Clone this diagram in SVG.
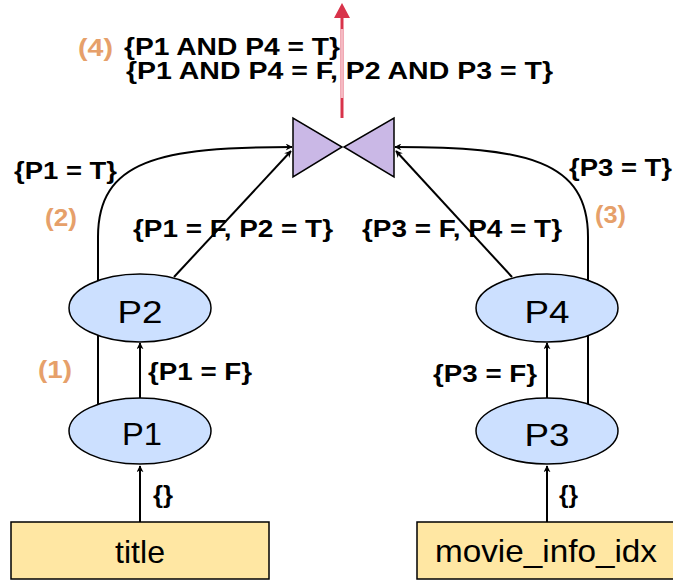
<svg xmlns="http://www.w3.org/2000/svg" width="673" height="581" viewBox="0 0 673 581">
<defs>
<style>
.lbl{font-family:"Liberation Sans",Arial,sans-serif;font-weight:bold;font-size:23px;fill:#000}
.num{font-family:"Liberation Sans",Arial,sans-serif;font-weight:bold;font-size:23px;fill:#E6A06A}
.big{font-family:"Liberation Sans",Arial,sans-serif;font-size:32px;fill:#000}
.ell{fill:#CCE0FF;stroke:#000;stroke-width:1.5}
.tbl{fill:#FFE7A3;stroke:#000;stroke-width:1.5}
.tri{fill:#CAB8E6;stroke:#000;stroke-width:1.5}
.edge{fill:none;stroke:#000;stroke-width:2}
</style>
<marker id="ah" viewBox="0 0 10 10" refX="9" refY="5" markerWidth="7" markerHeight="7" orient="auto" markerUnits="userSpaceOnUse">
<path d="M0,0 L10,5 L0,10 L3,5 z" fill="#000"/>
</marker>
</defs>
<rect width="673" height="581" fill="#fff"/>

<g id="connectors">
<path class="edge" d="M140,522 L140,466" marker-end="url(#ah)"/>
<path class="edge" d="M140,398 L140,343" marker-end="url(#ah)"/>
<path class="edge" d="M547,522 L547,466" marker-end="url(#ah)"/>
<path class="edge" d="M547,398 L547,343" marker-end="url(#ah)"/>
<path class="edge" d="M98,404 L98,237 C98,160 160,147 292,147" marker-end="url(#ah)"/>
<path class="edge" d="M588,405 L588,237 C588,160 526,147 395,147" marker-end="url(#ah)"/>
<path class="edge" d="M174,277 L291,151" marker-end="url(#ah)"/>
<path class="edge" d="M512,277 L396,151" marker-end="url(#ah)"/>
<g id="output-arrow">
<line x1="342" y1="118" x2="342" y2="16" stroke="#D8334A" stroke-width="3"/>
<line x1="342" y1="29" x2="342" y2="98" stroke="#F5B9C2" stroke-width="3"/>
<path d="M342,3 L350,18 L334,18 z" fill="#D8334A"/>
</g>
</g>

<g id="node-title">
<rect class="tbl" x="11" y="522" width="258" height="57"/>
<text class="big" x="140" y="563" text-anchor="middle" textLength="50" lengthAdjust="spacingAndGlyphs">title</text>
</g>
<g id="node-movie_info_idx">
<rect class="tbl" x="417" y="522" width="258" height="57"/>
<text class="big" x="546" y="562" text-anchor="middle" textLength="222" lengthAdjust="spacingAndGlyphs">movie_info_idx</text>
</g>
<g id="node-P1">
<ellipse class="ell" cx="140" cy="431" rx="71" ry="33"/>
<text class="big" x="142" y="445" text-anchor="middle" textLength="40" lengthAdjust="spacingAndGlyphs">P1</text>
</g>
<g id="node-P2">
<ellipse class="ell" cx="140" cy="308" rx="71" ry="34"/>
<text class="big" x="140" y="323" text-anchor="middle" textLength="45" lengthAdjust="spacingAndGlyphs">P2</text>
</g>
<g id="node-P3">
<ellipse class="ell" cx="547" cy="431" rx="71" ry="33"/>
<text class="big" x="547" y="446" text-anchor="middle" textLength="45" lengthAdjust="spacingAndGlyphs">P3</text>
</g>
<g id="node-P4">
<ellipse class="ell" cx="547" cy="308" rx="71" ry="34"/>
<text class="big" x="547" y="323" text-anchor="middle" textLength="45" lengthAdjust="spacingAndGlyphs">P4</text>
</g>
<g id="node-join">
<path class="tri" d="M293,118 L293,177 L342,147 z"/>
<path class="tri" d="M394,118 L394,177 L344,147 z"/>
</g>

<g id="labels">
<text class="num" x="78" y="56" textLength="35" lengthAdjust="spacingAndGlyphs">(4)</text>
<text class="lbl" x="124" y="55" textLength="216" lengthAdjust="spacingAndGlyphs">{P1 AND P4 = T}</text>
<text class="lbl" x="126" y="79" textLength="427" lengthAdjust="spacingAndGlyphs">{P1 AND P4 = F, P2 AND P3 = T}</text>
<text class="lbl" x="14" y="179" textLength="103" lengthAdjust="spacingAndGlyphs">{P1 = T}</text>
<text class="num" x="45" y="226" textLength="32" lengthAdjust="spacingAndGlyphs">(2)</text>
<text class="lbl" x="133" y="237" textLength="200" lengthAdjust="spacingAndGlyphs">{P1 = F, P2 = T}</text>
<text class="lbl" x="569" y="176" textLength="103" lengthAdjust="spacingAndGlyphs">{P3 = T}</text>
<text class="num" x="595" y="223" textLength="31" lengthAdjust="spacingAndGlyphs">(3)</text>
<text class="lbl" x="362" y="237" textLength="200" lengthAdjust="spacingAndGlyphs">{P3 = F, P4 = T}</text>
<text class="num" x="38" y="378" textLength="34" lengthAdjust="spacingAndGlyphs">(1)</text>
<text class="lbl" x="148" y="380" textLength="104" lengthAdjust="spacingAndGlyphs">{P1 = F}</text>
<text class="lbl" x="433" y="382" textLength="104" lengthAdjust="spacingAndGlyphs">{P3 = F}</text>
<text class="lbl" x="153" y="503" textLength="20" lengthAdjust="spacingAndGlyphs">{}</text>
<text class="lbl" x="559" y="503" textLength="19" lengthAdjust="spacingAndGlyphs">{}</text>
</g>
</svg>
